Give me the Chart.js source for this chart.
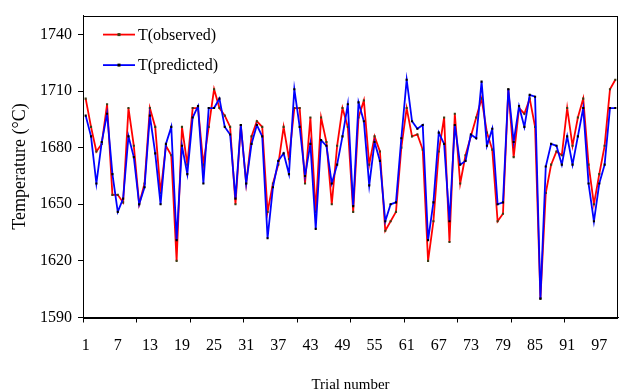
<!DOCTYPE html>
<html>
<head>
<meta charset="utf-8">
<script src="https://cdn.jsdelivr.net/npm/chart.js@4.4.1/dist/chart.umd.min.js"></script>
<style>
  html, body { margin: 0; padding: 0; background: #fff; }
  #wrap { width: 622px; height: 389px; }
</style>
</head>
<body>
<div id="wrap"><canvas id="c" width="622" height="389"></canvas></div>
<script>
// ---- data ----
const trials = Array.from({length: 100}, (_, i) => String(i + 1));
const shownXLabels = ['1','7','13','19','25','31','37','43','49','55','61','67','73','79','85','91','97'];
const yTickValues = [1590, 1620, 1650, 1680, 1710, 1740];

const observed = [
  1706,1691,1678,1682,1703,1655,1655,1651,1701,1681,
  1650,1661,1701,1691,1656,1681,1676,1620,1691,1671,
  1701,1701,1671,1691,1711,1701,1697,1691,1650,1692,
  1661,1686,1694,1691,1646,1661,1671,1691,1674,1701,
  1701,1661,1696,1646,1696,1683,1650,1681,1701,1691,
  1646,1696,1705,1671,1686,1678,1636,1641,1646,1680,
  1701,1686,1687,1679,1620,1641,1678,1696,1630,1698,
  1661,1676,1686,1696,1706,1688,1679,1641,1645,1711,
  1675,1701,1698,1706,1691,1600,1656,1671,1678,1676,
  1701,1681,1696,1706,1671,1650,1666,1681,1711,1716
];
const predicted = [
  1697,1686,1661,1683,1698,1666,1646,1653,1686,1675,
  1650,1659,1697,1677,1650,1682,1691,1631,1681,1666,
  1696,1702,1661,1701,1701,1706,1691,1687,1653,1692,
  1661,1682,1692,1686,1632,1659,1673,1677,1666,1711,
  1691,1665,1682,1637,1684,1681,1661,1671,1686,1703,
  1649,1704,1694,1660,1683,1673,1641,1650,1651,1685,
  1716,1694,1690,1692,1631,1651,1688,1682,1641,1692,
  1671,1673,1687,1685,1715,1681,1690,1650,1651,1711,
  1683,1702,1691,1708,1707,1600,1670,1682,1681,1671,
  1686,1671,1686,1701,1661,1641,1661,1671,1701,1701
];

const FONT = 'Liberation Serif, "Times New Roman", serif';

const framePlugin = {
  id: 'frame',
  afterDraw(chart) {
    const {ctx, chartArea: a} = chart;
    ctx.save();
    ctx.strokeStyle = '#000';
    ctx.lineWidth = 1;
    ctx.strokeRect(Math.round(a.left) + 0.5, Math.round(a.top) + 0.5,
                   Math.round(a.right - a.left) - 1, Math.round(a.bottom - a.top));
    ctx.restore();
  }
};

const legendPlugin = {
  id: 'innerLegend',
  afterDraw(chart) {
    const {ctx, chartArea: a} = chart;
    ctx.save();
    ctx.font = '16px ' + FONT;
    ctx.textBaseline = 'middle';
    ctx.fillStyle = '#000';
    chart.data.datasets.forEach((ds, i) => {
      const y = a.top + 19 + i * 30.5;
      const x0 = a.left + 20, x1 = a.left + 52;
      ctx.strokeStyle = ds.borderColor;
      ctx.lineWidth = 1.8;
      ctx.beginPath(); ctx.moveTo(x0, y); ctx.lineTo(x1, y); ctx.stroke();
      ctx.fillStyle = ds.pointBackgroundColor;
      ctx.fillRect((x0 + x1) / 2 - 1.5, y - 1.5, 3, 3);
      ctx.fillStyle = '#000';
      ctx.fillText(ds.label, x1 + 3, y + 1);
    });
    ctx.restore();
  }
};

new Chart(document.getElementById('c'), {
  type: 'line',
  data: {
    labels: trials,
    datasets: [
      {
        label: 'T(observed)',
        data: observed,
        borderColor: '#ff0000',
        backgroundColor: '#ff0000',
        borderWidth: 1.8,
        pointStyle: 'rect',
        pointRadius: 1.5,
        pointBorderWidth: 0,
        pointBackgroundColor: '#3d3d14',
        tension: 0,
        order: 1
      },
      {
        label: 'T(predicted)',
        data: predicted,
        borderColor: '#0000ff',
        backgroundColor: '#0000ff',
        borderWidth: 1.8,
        pointStyle: 'rect',
        pointRadius: 1.5,
        pointBorderWidth: 0,
        pointBackgroundColor: '#000000',
        tension: 0,
        order: 0
      }
    ]
  },
  options: {
    responsive: false,
    animation: false,
    layout: { padding: { left: 0, right: 1, top: 13, bottom: 0 } },
    plugins: { legend: { display: false }, tooltip: { enabled: false } },
    scales: {
      x: {
        type: 'category',
        offset: true,
        afterFit(s) { s.height = 71.5; s.paddingLeft = 0; s.paddingRight = 0; },
        border: { display: true, color: '#000', width: 1 },
        grid: {
          offset: true,
          drawOnChartArea: false,
          drawTicks: true,
          tickLength: 5,
          tickWidth: 1,
          tickColor: (ctx) => (ctx.index !== undefined && ctx.index % 10 === 0) ? '#000' : 'rgba(0,0,0,0)'
        },
        ticks: {
          autoSkip: false,
          maxRotation: 0,
          minRotation: 0,
          padding: 14,
          color: '#000',
          font: { family: FONT, size: 16 },
          callback(value) {
            const lab = this.getLabelForValue(value);
            return shownXLabels.includes(lab) ? lab : '';
          }
        },
        title: {
          display: true,
          text: 'Trial number',
          color: '#000',
          font: { family: FONT, size: 15 },
          padding: { top: 0, bottom: -5 }
        }
      },
      y: {
        min: 1590,
        max: 1750,
        afterFit(s) { s.width = 83; },
        afterBuildTicks(s) { s.ticks = yTickValues.map(v => ({ value: v })); },
        border: { display: true, color: '#000', width: 1 },
        grid: {
          drawOnChartArea: false,
          drawTicks: true,
          tickLength: 5,
          tickColor: '#000'
        },
        ticks: {
          padding: 6,
          color: '#000',
          font: { family: FONT, size: 16 },
          callback: (v) => String(v)
        },
        title: {
          display: true,
          text: 'Temperature (°C)',
          color: '#000',
          font: { family: FONT, size: 18 },
          padding: { top: 9, bottom: 10 }
        }
      }
    }
  },
  plugins: [framePlugin, legendPlugin]
});
</script>
</body>
</html>
